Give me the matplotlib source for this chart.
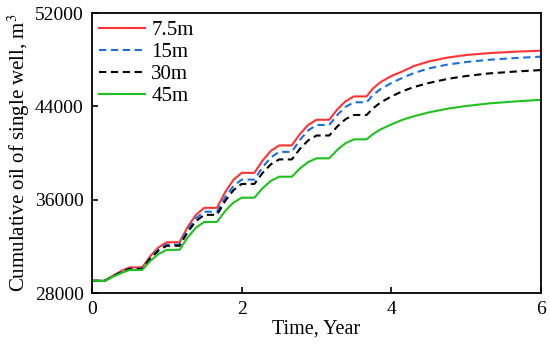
import matplotlib
matplotlib.use("Agg")
import matplotlib.pyplot as plt

t = [0, 0.17, 0.28, 0.39, 0.5, 0.67, 0.78, 0.89, 1.0, 1.17, 1.28, 1.39, 1.5, 1.67,
     1.78, 1.89, 2.0, 2.17, 2.28, 2.39, 2.5, 2.67, 2.78, 2.89, 3.0, 3.17, 3.28, 3.39,
     3.5, 3.67, 3.75, 3.85, 4.0, 4.15, 4.3, 4.5, 4.75, 5.0, 5.3, 5.65, 6.0]

red_7_5m = [29050, 29050, 29490, 29880, 30200, 30200, 31170, 31920, 32350, 32350,
            33680, 34710, 35300, 35300, 36650, 37700, 38300, 38300, 39360, 40180,
            40650, 40650, 41640, 42410, 42850, 42850, 43750, 44450, 44850, 44850,
            45500, 46050, 46600, 47000, 47450, 47850, 48180, 48400, 48560, 48680, 48770]
blue_15m = [29050, 29050, 29450, 29800, 30090, 30090, 31020, 31740, 32150, 32150,
            33420, 34410, 34970, 34970, 36210, 37170, 37720, 37720, 38790, 39620,
            40100, 40100, 41140, 41940, 42400, 42400, 43280, 43960, 44350, 44350,
            44950, 45450, 46000, 46450, 46850, 47250, 47580, 47800, 47990, 48140, 48260]
black_30m = [29050, 29050, 29430, 29780, 30060, 30060, 30960, 31650, 32050, 32050,
             33240, 34170, 34700, 34700, 35890, 36820, 37350, 37350, 38300, 39030,
             39450, 39450, 40370, 41090, 41500, 41500, 42290, 42910, 43260, 43260,
             43800, 44300, 44850, 45300, 45650, 46000, 46350, 46600, 46820, 46980, 47110]
green_45m = [29050, 29050, 29400, 29710, 29970, 29970, 30750, 31350, 31700, 31700,
             32780, 33610, 34090, 34090, 35030, 35750, 36170, 36170, 36980, 37610,
             37970, 37970, 38680, 39230, 39545, 39545, 40280, 40850, 41170, 41170,
             41600, 42000, 42450, 42850, 43150, 43480, 43800, 44030, 44250, 44420, 44560]

labels = ["7.5m", "15m", "30m", "45m"]
xticks = [0, 2, 4, 6]
yticks = [28000, 36000, 44000, 52000]

plt.rcParams['font.family'] = ['Liberation Serif', 'DejaVu Serif']
plt.rcParams['mathtext.fontset'] = 'stix'

fig = plt.figure(figsize=(5.5, 3.48), dpi=100)
ax = fig.add_axes([0.1673, 0.158, 0.8163, 0.8046])

ax.plot(t, red_7_5m, color='#ff3333', lw=1.5, label=labels[0])
ax.plot(t, blue_15m, color='#1a6fe0', lw=1.5, dashes=(3.5, 2.2), label=labels[1])
ax.plot(t, black_30m, color='black', lw=1.5, dashes=(3.5, 2.2), label=labels[2])
ax.plot(t, green_45m, color='#1ec21e', lw=1.5, label=labels[3])

ax.set_xlim(0, 6)
ax.set_ylim(28000, 52000)
ax.set_xticks(xticks)
ax.set_yticks(yticks)
ax.tick_params(direction='in', length=4, width=1.2, labelsize=14, pad=6)
for s in ax.spines.values():
    s.set_linewidth(1.3)

ax.set_xlabel("Time, Year", fontsize=14.5, labelpad=1)
ax.set_ylabel("Cumulative oil of single well, m$^3$", fontsize=15, labelpad=2)

leg = ax.legend(loc='upper left', frameon=False, fontsize=15, handlelength=2.2,
                handletextpad=0.3, labelspacing=0.12, borderaxespad=0.15,
                borderpad=0.2)

fig.savefig("out.png", dpi=100)
